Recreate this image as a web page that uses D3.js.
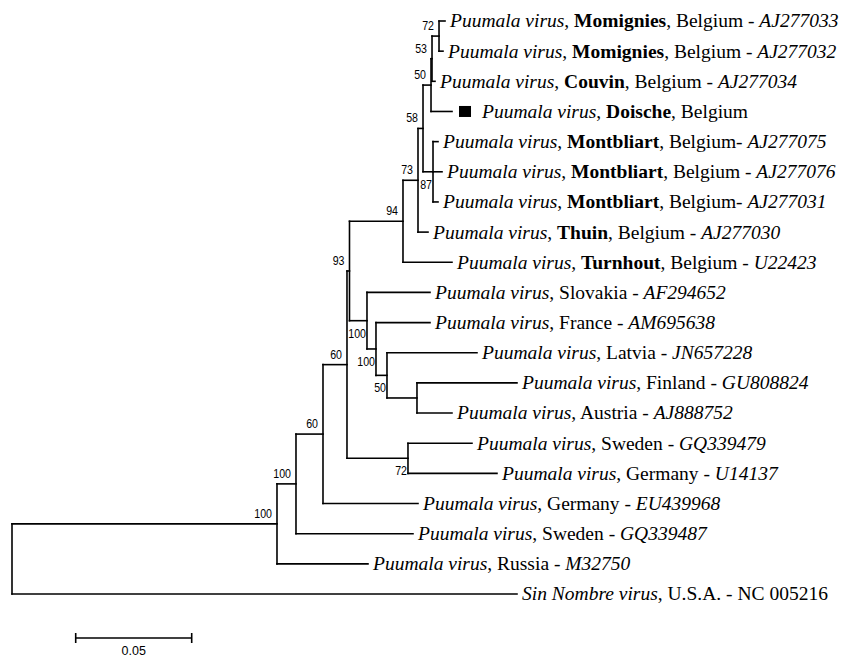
<!DOCTYPE html>
<html>
<head>
<meta charset="utf-8">
<script src="https://cdn.jsdelivr.net/npm/d3@7"></script>
<style>
  html, body { margin: 0; padding: 0; background: #fff; }
  svg { display: block; }
</style>
</head>
<body>
<svg id="chart" width="848" height="659"></svg>
<script>
// ---- Tree data (preorder; children listed top to bottom) ----
const nodeIds = [
  "root","N100a","N100b","N60a","N60b","N93","N94","N73","N58","C","B","A",
  "AJ277033","AJ277032","AJ277034","Doische","N87","AJ277075","AJ277076","AJ277031",
  "AJ277030","U22423","N100c","AF294652","N100d","AM695638","N50","JN657228","NFA",
  "GU808824","AJ888752","N72","GQ339479","U14137","EU439968","GQ339487","M32750","NC005216"
];
const parentIds = [
  null,"root","N100a","N100b","N60a","N60b","N93","N94","N73","N58","C","B",
  "A","A","B","C","N58","N87","N87","N87",
  "N73","N94","N93","N100c","N100c","N100d","N100d","N50","N50",
  "NFA","NFA","N60b","N72","N72","N60a","N100b","N100a","root"
];
// branch lengths (substitutions / site)
const branchLengths = [
  0,0.11422,0.00819,0.01164,0.01034,0.00108,0.02306,0.00647,0.00216,0.00345,0.00043,0.00302,
  0.00259,0.00172,0.00129,0.00905,0.00431,0.00216,0.00388,0.00216,
  0.00431,0.02112,0.00754,0.02716,0.00388,0.02328,0.00474,0.03879,0.01293,
  0.04310,0.01509,0.02629,0.02759,0.03836,0.04095,0.05043,0.03922,0.21767
];
// bootstrap support (null = none) and placement relative to the node
const bootstrap = [
  null,100,100,60,60,93,94,73,58,50,53,72,
  null,null,null,null,87,null,null,null,
  null,null,100,null,100,null,50,null,null,
  null,null,72,null,null,null,null,null,null
];
const bootstrapSide = [
  null,"above","above","above","above","above","above","above","above","above","above","above",
  null,null,null,null,"below",null,null,null,
  null,null,"below",null,"below",null,"below",null,null,
  null,null,"below",null,null,null,null,null,null
];

// ---- Leaf labels (in leaf order, top to bottom) ----
const leafIds = ["AJ277033","AJ277032","AJ277034","Doische","AJ277075","AJ277076","AJ277031",
  "AJ277030","U22423","AF294652","AM695638","JN657228","GU808824","AJ888752","GQ339479",
  "U14137","EU439968","GQ339487","M32750","NC005216"];
const leafVirus = ["Puumala virus","Puumala virus","Puumala virus","Puumala virus","Puumala virus",
  "Puumala virus","Puumala virus","Puumala virus","Puumala virus","Puumala virus","Puumala virus",
  "Puumala virus","Puumala virus","Puumala virus","Puumala virus","Puumala virus","Puumala virus",
  "Puumala virus","Puumala virus","Sin Nombre virus"];
const leafLocality = ["Momignies","Momignies","Couvin","Doische","Montbliart","Montbliart","Montbliart",
  "Thuin","Turnhout",null,null,null,null,null,null,null,null,null,null,null];
const leafCountry = ["Belgium","Belgium","Belgium","Belgium","Belgium","Belgium","Belgium","Belgium",
  "Belgium","Slovakia","France","Latvia","Finland","Austria","Sweden","Germany","Germany","Sweden",
  "Russia","U.S.A."];
const leafSeparator = [" - "," - "," - ","","- "," - ","- "," - "," - "," - "," - ",
  " - "," - "," - "," - "," - "," - "," - "," - "," - "];
const leafAccession = ["AJ277033","AJ277032","AJ277034",null,"AJ277075","AJ277076","AJ277031",
  "AJ277030","U22423","AF294652","AM695638","JN657228","GU808824","AJ888752","GQ339479","U14137",
  "EU439968","GQ339487","M32750","NC 005216"];
const leafAccessionItalic = [true,true,true,true,true,true,true,true,true,true,true,true,true,true,
  true,true,true,true,true,false];
const leafMarker = [false,false,false,true,false,false,false,false,false,false,false,false,false,
  false,false,false,false,false,false,false];
const scaleBarValue = 0.05;

// ---- Build hierarchy ----
const rows = nodeIds.map((id, i) => ({
  id, parent: parentIds[i], len: branchLengths[i],
  boot: bootstrap[i], side: bootstrapSide[i]
}));
const root = d3.stratify().id(d => d.id).parentId(d => d.parent)(rows);
root.eachBefore(n => { n.dist = (n.parent ? n.parent.dist : 0) + n.data.len; });

const x = d3.scaleLinear().domain([0, scaleBarValue]).range([12, 128]);
const y = d3.scalePoint().domain(leafIds).range([21, 594]);

root.eachAfter(n => {
  if (!n.children) n.py = y(n.id);
  else n.py = (n.children[0].py + n.children[n.children.length - 1].py) / 2;
  n.px = x(n.dist);
});

const svg = d3.select("#chart");
svg.append("rect").attr("width", 848).attr("height", 659).attr("fill", "#fff");

const g = svg.append("g")
  .attr("fill", "none").attr("stroke", "#000").attr("stroke-width", 1.6)
  .attr("stroke-linecap", "square");

// horizontal branches
g.selectAll("line.h").data(root.descendants().filter(n => n.parent)).join("line")
  .attr("class", "h")
  .attr("x1", n => n.parent.px).attr("x2", n => n.px)
  .attr("y1", n => n.py).attr("y2", n => n.py);
// vertical connectors
g.selectAll("line.v").data(root.descendants().filter(n => n.children)).join("line")
  .attr("class", "v")
  .attr("x1", n => n.px).attr("x2", n => n.px)
  .attr("y1", n => n.children[0].py)
  .attr("y2", n => n.children[n.children.length - 1].py);

// bootstrap labels
svg.selectAll("text.boot").data(root.descendants().filter(n => n.data.boot != null)).join("text")
  .attr("class", "boot")
  .attr("transform", n => n.data.side === "above"
      ? `translate(${n.px - 5},${n.py - 6}) scale(0.85,1)`
      : `translate(${n.px - 1},${n.py + 17}) scale(0.85,1)`)
  .attr("text-anchor", "end")
  .attr("font-family", "'Liberation Sans', Arial, sans-serif")
  .attr("font-size", 12.5)
  .attr("fill", "#000")
  .text(n => n.data.boot);

// leaf labels
const leaves = root.leaves();
const lab = svg.selectAll("g.leaf").data(leaves).join("g")
  .attr("class", "leaf")
  .attr("transform", n => `translate(${n.px + 5},${n.py})`);

lab.each(function(n) {
  const i = leafIds.indexOf(n.id);
  const gg = d3.select(this);
  let tx = 0;
  if (leafMarker[i]) {
    gg.append("rect").attr("x", 2).attr("y", -5.5).attr("width", 12).attr("height", 11).attr("fill", "#000");
    tx = 25;
  }
  const t = gg.append("text")
    .attr("x", tx).attr("y", 0).attr("dy", "0.33em")
    .attr("font-family", "'Liberation Serif', 'Times New Roman', serif")
    .attr("font-size", 19.5).attr("fill", "#000");
  t.append("tspan").attr("font-style", "italic").text(leafVirus[i]);
  t.append("tspan").text(", ");
  if (leafLocality[i]) {
    t.append("tspan").attr("font-weight", "bold").text(leafLocality[i]);
    t.append("tspan").text(", ");
  }
  t.append("tspan").text(leafCountry[i]);
  if (leafAccession[i]) {
    t.append("tspan").text(leafSeparator[i]);
    t.append("tspan").attr("font-style", leafAccessionItalic[i] ? "italic" : "normal").text(leafAccession[i]);
  }
});

// scale bar
const sbX0 = 75.7, sbY = 638;
const sbLen = x(scaleBarValue) - x(0);
const sb = svg.append("g").attr("stroke", "#000").attr("stroke-width", 1.6);
sb.append("line").attr("x1", sbX0).attr("x2", sbX0 + sbLen).attr("y1", sbY).attr("y2", sbY);
sb.append("line").attr("x1", sbX0).attr("x2", sbX0).attr("y1", sbY - 5).attr("y2", sbY + 5);
sb.append("line").attr("x1", sbX0 + sbLen).attr("x2", sbX0 + sbLen).attr("y1", sbY - 5).attr("y2", sbY + 5);
svg.append("text")
  .attr("x", sbX0 + sbLen / 2).attr("y", sbY + 17)
  .attr("text-anchor", "middle")
  .attr("font-family", "'Liberation Sans', Arial, sans-serif")
  .attr("font-size", 12.5).attr("fill", "#000")
  .text(d3.format(".2f")(scaleBarValue));
</script>
</body>
</html>
